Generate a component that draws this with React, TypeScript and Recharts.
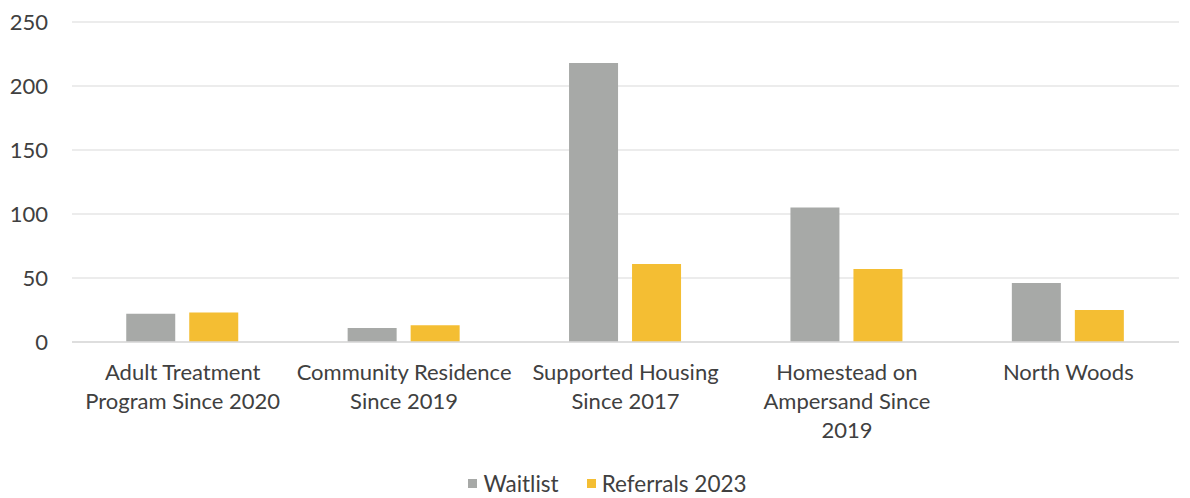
import { Bar, BarChart, CartesianGrid, Legend, XAxis, YAxis } from "recharts"

const categories = [
  "Adult Treatment\nProgram Since 2020",
  "Community Residence\nSince 2019",
  "Supported Housing\nSince 2017",
  "Homestead on\nAmpersand Since\n2019",
  "North Woods",
]
const waitlist = [22, 11, 218, 105, 46]
const referrals2023 = [23, 13, 61, 57, 25]
const yTicks = [0, 50, 100, 150, 200, 250]

const GRAY = "#A7A9A7"
const YELLOW = "#F4BE33"
const TEXT = "#404040"
const FONT = "Lato, 'Noto Sans', sans-serif"

const data = categories.map((name, i) => ({
  name,
  Waitlist: waitlist[i],
  "Referrals 2023": referrals2023[i],
}))

function CategoryTick({ x, y, payload }: any) {
  const lines = String(payload.value).split("\n")
  return (
    <text x={x} y={y} textAnchor="middle" fill={TEXT} fontSize={22} fontFamily={FONT}>
      {lines.map((line, i) => (
        <tspan key={i} x={x} dy={i === 0 ? 38 : 29}>
          {line}
        </tspan>
      ))}
    </text>
  )
}

function LegendContent() {
  const items = [
    { label: "Waitlist", color: GRAY },
    { label: "Referrals 2023", color: YELLOW },
  ]
  return (
    <div style={{ display: "flex", justifyContent: "center", gap: 28, fontFamily: FONT, fontSize: 22.5, color: TEXT, paddingLeft: 36 }}>
      {items.map((it) => (
        <div key={it.label} style={{ display: "flex", alignItems: "center" }}>
          <span style={{ width: 9, height: 9, background: it.color, marginRight: 6, display: "inline-block" }} />
          {it.label}
        </div>
      ))}
    </div>
  )
}

export default function App() {
  return (
    <div style={{ position: "absolute", left: 0, top: 0, width: 1190, height: 498, background: "#fff" }}>
      <BarChart
        width={1190}
        height={498}
        data={data}
        margin={{ top: 22, right: 11, left: 0, bottom: 0 }}
        barCategoryGap="24.5%"
        barGap={14}
      >
        <CartesianGrid vertical={false} stroke="#E6E6E6" strokeWidth={1.5} />
        <XAxis
          dataKey="name"
          interval={0}
          height={128}
          tickSize={0}
          tickMargin={0}
          axisLine={{ stroke: "#DADADA", strokeWidth: 1.5 }}
          tickLine={false}
          tick={<CategoryTick />}
        />
        <YAxis
          width={72}
          domain={[0, 250]}
          ticks={yTicks}
          axisLine={false}
          tickLine={false}
          tickSize={0}
          tickMargin={24}
          tick={{ fill: TEXT, fontSize: 22, fontFamily: FONT }}
        />
        <Legend verticalAlign="bottom" height={28} content={<LegendContent />} />
        <Bar dataKey="Waitlist" fill={GRAY} isAnimationActive={false} />
        <Bar dataKey="Referrals 2023" fill={YELLOW} isAnimationActive={false} />
      </BarChart>
    </div>
  )
}
